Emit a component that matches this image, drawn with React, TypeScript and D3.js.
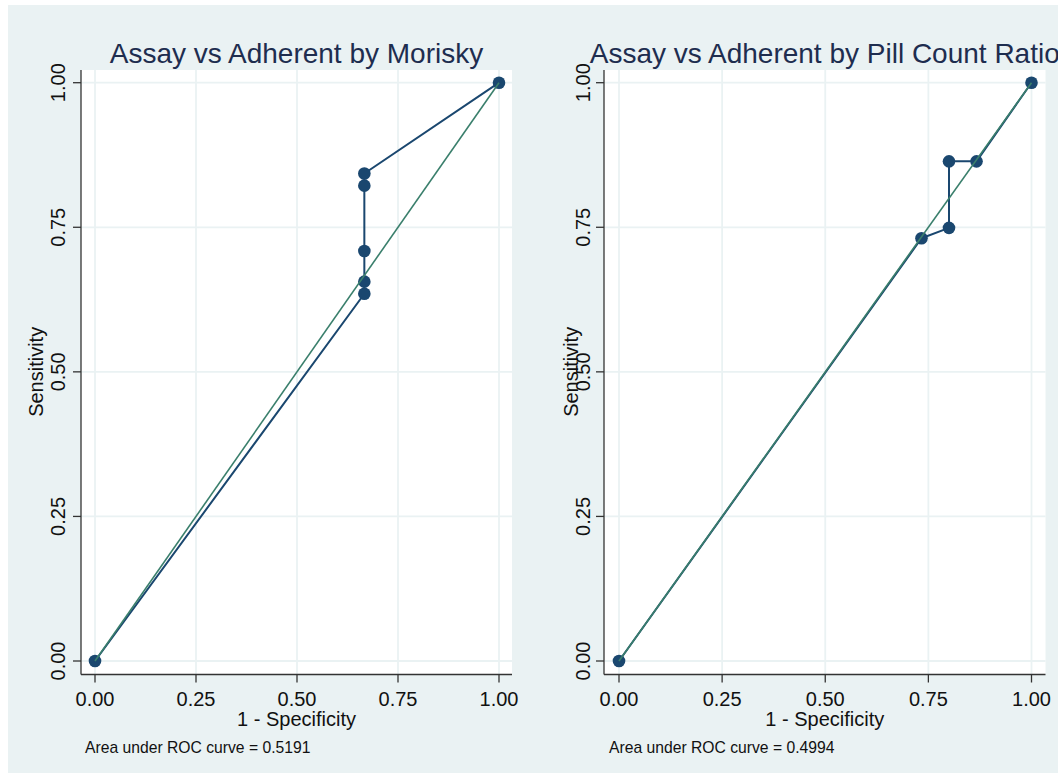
import React from "react";
import * as d3 from "d3";

// ROC points (1 - specificity, sensitivity) for each classifier
const moriskyFpr = [0, 0.6667, 0.6667, 0.6667, 0.6667, 0.6667, 1];
const moriskyTpr = [0, 0.635, 0.656, 0.709, 0.822, 0.843, 1];
const pillFpr = [0, 0.7333, 0.8, 0.8, 0.8667, 1];
const pillTpr = [0, 0.731, 0.749, 0.864, 0.864, 1];

const titles = ["Assay vs Adherent by Morisky", "Assay vs Adherent by Pill Count Ratio"];
const aucLabels = ["Area under ROC curve = 0.5191", "Area under ROC curve = 0.4994"];
const tickValues = [0, 0.25, 0.5, 0.75, 1];

const FONT = "'Liberation Sans', Arial, Helvetica, sans-serif";
const NAVY = "#1a476f";
const GREEN = "#3a7f6c";
const GRID = "#eaf2f3";
const BG = "#eaf2f3";
const AXIS = "#333333";

interface PanelSpec {
  title: string;
  auc: string;
  fpr: number[];
  tpr: number[];
  box: [number, number]; // plot region left/right
  xRange: [number, number];
  tickLabelX: number; // baseline x of rotated y tick labels
  yTitleX: number; // baseline x of rotated y title
  aucX: number;
}

const panels: PanelSpec[] = [
  {
    title: titles[0],
    auc: aucLabels[0],
    fpr: moriskyFpr,
    tpr: moriskyTpr,
    box: [81, 512],
    xRange: [95, 499],
    tickLabelX: 65,
    yTitleX: 43,
    aucX: 85,
  },
  {
    title: titles[1],
    auc: aucLabels[1],
    fpr: pillFpr,
    tpr: pillTpr,
    box: [604, 1045.5],
    xRange: [619, 1031.5],
    tickLabelX: 590,
    yTitleX: 578,
    aucX: 609,
  },
];

const PLOT_TOP = 70;
const PLOT_BOTTOM = 674.5;
const fmt = d3.format(".2f");

function Panel({ p }: { p: PanelSpec }) {
  const x = d3.scaleLinear().domain([0, 1]).range(p.xRange);
  const y = d3.scaleLinear().domain([0, 1]).range([661, 82.7]);
  const pts: [number, number][] = p.fpr.map((f, i) => [f, p.tpr[i]]);
  const line = d3
    .line<[number, number]>()
    .x((d) => x(d[0]))
    .y((d) => y(d[1]));
  const ref = line([
    [0, 0],
    [1, 1],
  ]);
  const [bx0, bx1] = p.box;
  const cx = (bx0 + bx1) / 2;
  const cy = y(0.5);

  return (
    <g>
      <rect x={bx0} y={PLOT_TOP} width={bx1 - bx0} height={PLOT_BOTTOM - PLOT_TOP} fill="#ffffff" />
      {tickValues.map((t) => (
        <g key={"g" + t}>
          <line x1={x(t)} x2={x(t)} y1={PLOT_TOP} y2={PLOT_BOTTOM} stroke={GRID} strokeWidth={1.8} />
          <line x1={bx0} x2={bx1} y1={y(t)} y2={y(t)} stroke={GRID} strokeWidth={1.8} />
        </g>
      ))}
      {/* axes */}
      <line x1={bx0} x2={bx0} y1={PLOT_TOP} y2={PLOT_BOTTOM} stroke={AXIS} strokeWidth={1.3} />
      <line x1={bx0} x2={bx1} y1={PLOT_BOTTOM} y2={PLOT_BOTTOM} stroke={AXIS} strokeWidth={1.3} />
      {tickValues.map((t) => (
        <g key={"t" + t}>
          <line x1={x(t)} x2={x(t)} y1={PLOT_BOTTOM} y2={PLOT_BOTTOM + 8} stroke={AXIS} strokeWidth={1.3} />
          <text x={x(t)} y={706} textAnchor="middle" fontSize={20} fontFamily={FONT} fill="#111">
            {fmt(t)}
          </text>
          <line x1={bx0 - 8} x2={bx0} y1={y(t)} y2={y(t)} stroke={AXIS} strokeWidth={1.3} />
          <text
            transform={`translate(${p.tickLabelX},${y(t)}) rotate(-90)`}
            textAnchor="middle"
            fontSize={20}
            fontFamily={FONT}
            fill="#111"
          >
            {fmt(t)}
          </text>
        </g>
      ))}
      <text x={cx} y={726} textAnchor="middle" fontSize={20} fontFamily={FONT} fill="#111">
        1 - Specificity
      </text>
      <text
        transform={`translate(${p.yTitleX},${cy}) rotate(-90)`}
        textAnchor="middle"
        fontSize={20}
        fontFamily={FONT}
        fill="#111"
      >
        Sensitivity
      </text>
      <text x={cx} y={62.5} textAnchor="middle" fontSize={28} fontFamily={FONT} fill="#1e2d4f">
        {p.title}
      </text>
      <text x={p.aucX} y={753} fontSize={15.7} fontFamily={FONT} fill="#111">
        {p.auc}
      </text>
      {/* ROC curve */}
      <path d={line(pts) || ""} fill="none" stroke={NAVY} strokeWidth={2} strokeLinejoin="round" />
      {pts.map((d, i) => (
        <circle key={"c" + i} cx={x(d[0])} cy={y(d[1])} r={6.3} fill={NAVY} />
      ))}
      {/* reference diagonal */}
      <path d={ref || ""} fill="none" stroke={GREEN} strokeWidth={1.6} />
    </g>
  );
}

export default function App() {
  return (
    <svg
      width={1058}
      height={773}
      style={{ position: "absolute", left: 0, top: 0 }}
      xmlns="http://www.w3.org/2000/svg"
    >
      <rect x={0} y={0} width={1058} height={773} fill="#ffffff" />
      <rect x={8} y={5} width={1050} height={768} fill={BG} />
      {panels.map((p, i) => (
        <Panel key={i} p={p} />
      ))}
    </svg>
  );
}
